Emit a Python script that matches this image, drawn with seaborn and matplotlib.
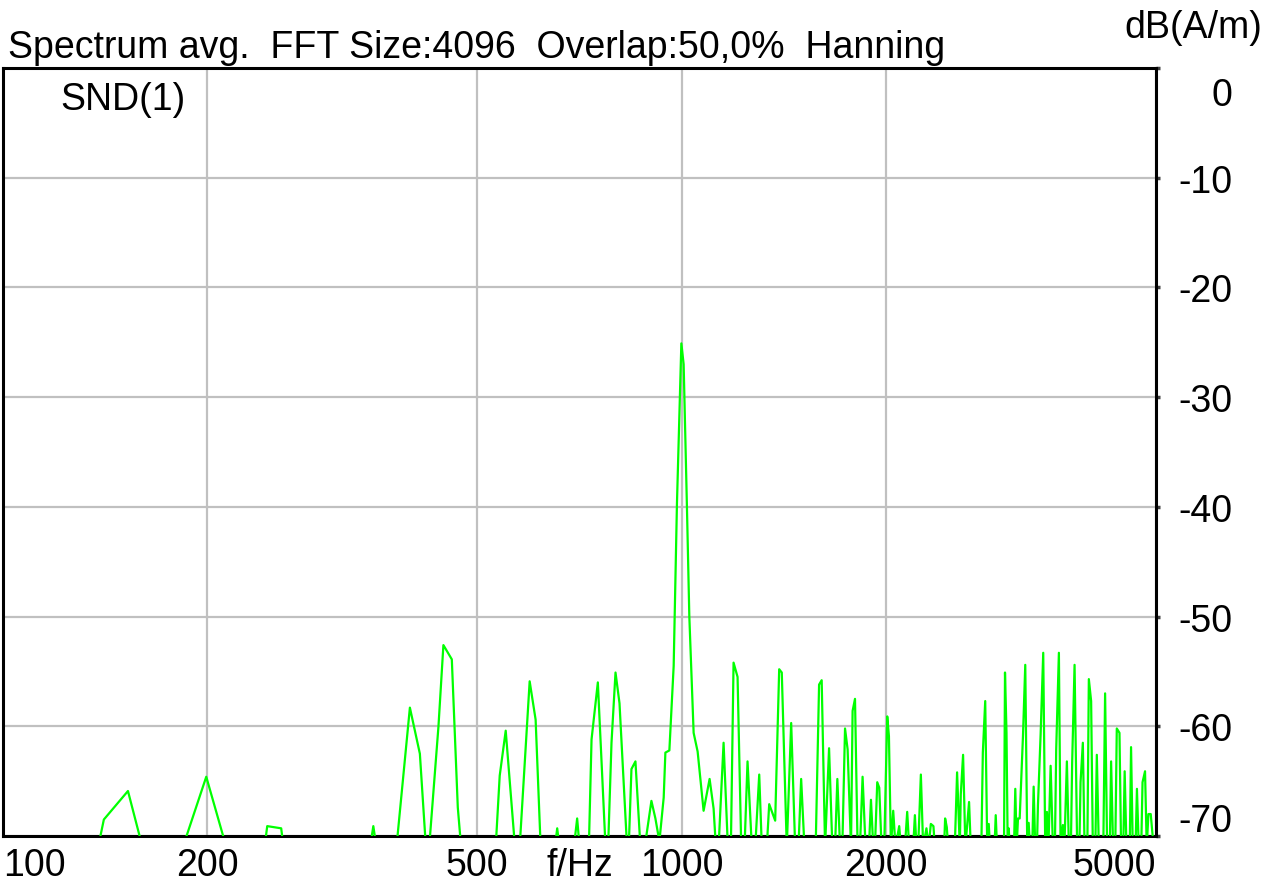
import matplotlib
matplotlib.use("Agg")
import matplotlib.pyplot as plt
import matplotlib.transforms as mtransforms
from matplotlib.ticker import NullLocator
import pandas as pd
import seaborn as sns

# averaged spectrum (values below -70 dB are clipped)
freq_hz = [
    100, 138.1, 140.8, 152.8, 160.5, 184.1, 199.3, 213.3, 242.9, 245.1,
    257.0, 259.0, 347.5, 351.3, 355.0, 380.0, 397.7, 411.4, 419.9, 424.6,
    438.2, 445.6, 458.5, 467.9, 473.2, 532.1, 539.4, 550.5, 568.1, 577.2,
    597.1, 609.3, 619.8, 650.5, 655.6, 660.5, 693.8, 701.5, 707.3, 729.9,
    736.6, 752.5, 772.4, 779.2, 788.2, 799.0, 809.9, 830.9, 835.7, 843.4,
    854.9, 869.5, 882.3, 902.5, 914.8, 927.3, 940.9, 946.3, 959.2, 973.3,
    984.2, 999.0, 1006.8, 1018.1, 1026.4, 1041.5, 1055.7, 1077.3, 1099.5, 1114.5,
    1123.2, 1133.5, 1152.9, 1169.8, 1181.8, 1192.6, 1208.9, 1224.1, 1237.9, 1250.5,
    1268.9, 1283.6, 1301.1, 1312.6, 1335.0, 1345.9, 1373.5, 1392.3, 1404.6, 1428.6,
    1450.1, 1469.9, 1486.4, 1500.0, 1516.9, 1575.8, 1594.1, 1608.2, 1626.8, 1649.0,
    1667.5, 1682.8, 1696.0, 1711.5, 1724.9, 1740.8, 1756.1, 1776.4, 1786.1, 1800.7,
    1816.6, 1831.4, 1847.6, 1866.5, 1888.1, 1900.9, 1915.8, 1926.8, 1941.9, 1955.1,
    1970.4, 1988.5, 2008.8, 2020.4, 2034.1, 2050.0, 2066.1, 2092.1, 2104.2, 2132.9,
    2149.6, 2164.2, 2193.7, 2206.4, 2218.3, 2231.1, 2251.6, 2269.2, 2294.7, 2311.8,
    2329.1, 2349.7, 2360.8, 2436.4, 2444.7, 2458.8, 2469.7, 2526.3, 2546.1, 2569.5,
    2578.2, 2598.4, 2618.7, 2651.7, 2667.0, 2764.4, 2778.5, 2801.1, 2820.2, 2834.6,
    2847.1, 2890.9, 2902.7, 2915.5, 2985.4, 2995.5, 3010.8, 3023.0, 3033.3, 3044.6,
    3088.3, 3101.9, 3116.6, 3130.4, 3148.5, 3183.8, 3208.7, 3230.5, 3245.9, 3260.3,
    3285.7, 3301.3, 3319.2, 3338.4, 3349.7, 3380.5, 3410.4, 3433.6, 3453.5, 3471.0,
    3497.0, 3524.3, 3548.1, 3563.8, 3596.5, 3617.3, 3645.6, 3664.2, 3695.3, 3720.4,
    3745.7, 3762.2, 3792.9, 3826.4, 3855.1, 3870.7, 3901.0, 3923.6, 3961.0, 3981.1,
    4012.2, 4035.4, 4069.7, 4090.4, 4118.2, 4181.4, 4207.0, 4235.6, 4274.5, 4293.4,
    4322.6, 4354.9, 4377.1, 4417.3, 4441.3, 4474.5, 4495.7, 4523.2, 4574.0, 4594.2,
    4620.8, 4664.8, 4686.9, 4715.7, 4755.8, 4776.8, 4817.3, 4845.1, 4873.1, 4911.3,
    4960,
]
level_db = [
    -75, -71, -68.5, -65.9, -71, -71, -64.6, -71, -71, -69.1,
    -69.3, -71, -71, -69.1, -71, -71, -58.3, -62.5, -71, -71,
    -60.0, -52.6, -53.9, -67.4, -71, -71, -64.5, -60.4, -71, -71,
    -55.9, -59.4, -71, -71, -69.3, -71, -71, -68.4, -71, -71,
    -61.2, -56.0, -71, -71, -61.5, -55.1, -57.9, -71, -71, -63.9,
    -63.2, -71, -71, -66.8, -68.4, -70.5, -66.5, -62.4, -62.2, -54.5,
    -39.7, -25.1, -27.0, -40.0, -50.0, -60.6, -62.3, -67.7, -64.8, -67.5,
    -71, -71, -61.5, -71, -71, -54.2, -55.5, -71, -71, -63.2,
    -71, -71, -64.4, -71, -71, -67.1, -68.6, -54.8, -55.1, -71,
    -59.7, -71, -71, -64.8, -71, -71, -56.2, -55.8, -71, -62.0,
    -71, -71, -64.8, -71, -71, -60.2, -62.1, -71, -58.6, -57.5,
    -71, -71, -64.6, -71, -71, -66.7, -71, -71, -65.1, -65.6,
    -71, -71, -59.1, -60.9, -71, -67.7, -71, -69.1, -71, -71,
    -67.8, -71, -71, -68.1, -71, -71, -64.4, -71, -69.3, -71,
    -68.9, -69.1, -71, -71, -68.4, -69.2, -71, -71, -64.2, -71,
    -66.2, -62.6, -71, -66.9, -71, -71, -62.4, -57.7, -71, -68.9,
    -71, -71, -68.1, -71, -71, -55.1, -60.6, -71, -69.3, -71,
    -71, -65.7, -71, -68.4, -68.4, -60.9, -54.4, -71, -68.8, -71,
    -71, -65.5, -71, -71, -67.2, -60.7, -53.3, -71, -67.8, -71,
    -63.6, -71, -71, -62.1, -53.3, -71, -69.0, -71, -63.2, -71,
    -71, -63.3, -54.4, -71, -71, -65.1, -61.5, -71, -71, -55.7,
    -57.7, -71, -71, -62.6, -71, -71, -57.0, -71, -71, -63.2,
    -71, -71, -60.2, -60.6, -71, -71, -64.1, -71, -71, -61.9,
    -71, -71, -65.7, -71, -71, -65.1, -64.1, -71, -68.0, -68.0,
    -71,
]
x_ticks = [100, 200, 500, 1000, 2000, 5000]
y_ticks = [0, -10, -20, -30, -40, -50, -60, -70]

title_text = "Spectrum avg.  FFT Size:4096  Overlap:50,0%  Hanning"

sns.set_style("white")
plt.rcParams["font.family"] = ["Liberation Sans", "DejaVu Sans"]
plt.rcParams["text.color"] = "black"

fig = plt.figure(figsize=(12.76, 8.87), dpi=100)
ax = fig.add_axes([3 / 1276, 1 - 837 / 887, 1153 / 1276, 768 / 887])

spec = pd.DataFrame({"f": freq_hz, "db": level_db})
sns.lineplot(data=spec, x="f", y="db", color="#00ff00", linewidth=1.6,
             estimator=None, sort=False, ax=ax, zorder=3)

ax.set_xscale("log")
ax.set_xlim(100, 5000)
ax.set_ylim(-70, 0)
ax.set_xlabel("")
ax.set_ylabel("")

ax.set_xticks(x_ticks)
ax.set_xticklabels([str(t) for t in x_ticks])
ax.xaxis.set_minor_locator(NullLocator())
ax.yaxis.tick_right()
ax.set_yticks(y_ticks)
ax.set_yticklabels([str(t) for t in y_ticks])

ax.set_axisbelow(True)
ax.grid(True, color="#c0c0c0", linewidth=1.6)
for sp in ax.spines.values():
    sp.set_color("black")
    sp.set_linewidth(2.2)

ax.tick_params(axis="both", direction="out", length=3, width=2.5,
               color="#404040", labelsize=27, labelcolor="black")
ax.tick_params(axis="x", pad=5)
ax.tick_params(axis="y", pad=52)

# end labels are pulled inside the frame like in the original software
for lbl in ax.get_yticklabels():
    lbl.set_ha("right")
ylabels = ax.get_yticklabels()
ylabels[0].set_transform(ylabels[0].get_transform() +
                         mtransforms.ScaledTranslation(0, -0.23, fig.dpi_scale_trans))
ylabels[-1].set_transform(ylabels[-1].get_transform() +
                          mtransforms.ScaledTranslation(0, 0.19, fig.dpi_scale_trans))
xlabels = ax.get_xticklabels()
xlabels[0].set_ha("left")
xlabels[-1].set_ha("right")

ax.text(0.5, -0.0145, "f/Hz", transform=ax.transAxes, fontsize=27,
        ha="center", va="top")
ax.text(0.0494, 0.9466, "SND(1)", transform=ax.transAxes, fontsize=27,
        ha="left", va="baseline")
fig.text(8 / 1276, 1 - 58 / 887, title_text, fontsize=27, ha="left", va="baseline")
fig.text(1262 / 1276, 1 - 38 / 887, "dB(A/m)", fontsize=27, ha="right", va="baseline")

fig.savefig("out.png", dpi=100)
